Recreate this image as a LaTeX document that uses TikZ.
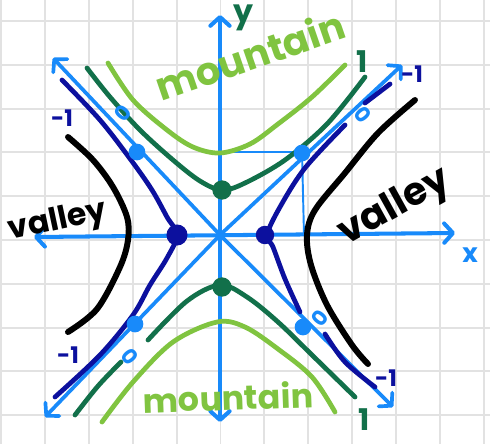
\documentclass[tikz,border=0pt]{standalone}
\usepackage{fontspec}
\setmainfont{Poppins}
\usetikzlibrary{arrows.meta}
\definecolor{lblue}{RGB}{24,138,250}
\definecolor{dblue}{RGB}{12,16,158}
\definecolor{dgreen}{RGB}{18,112,74}
\definecolor{lgreen}{RGB}{128,196,64}
\definecolor{gridgray}{RGB}{226,226,226}
\begin{document}
\begin{tikzpicture}[x=0.02cm,y=-0.02cm,
  gridline/.style={gridgray,line width=1.1pt},
  axisline/.style={lblue,line width=2.3pt,line cap=round},
  asymline/.style={lblue,line width=2.1pt,line cap=round},
  curve/.style={line width=2.7pt,line cap=round,line join=round},
  blackcurve/.style={black,line width=3.4pt,line cap=round,line join=round},
  thinline/.style={lblue,line width=1.1pt},
  bhead/.style={{Straight Barb[length=5pt,width=11pt,round]}-{Straight Barb[length=5pt,width=11pt,round]}},
  dot/.style={circle,inner sep=0pt,minimum size=#1},
  lab/.style={inner sep=0pt,anchor=center}]
\useasboundingbox (0,0) rectangle (490,444);
\fill[white] (0,0) rectangle (490,444);
% grid
\foreach \k in {0,...,11} \draw[gridline] ({1+43.9*\k},0) -- ({1+43.9*\k},444);
\foreach \k in {0,...,9} \draw[gridline] (0,{21+43.8*\k}) -- (490,{21+43.8*\k});
% key points
\coordinate (O) at (220,235);
\coordinate (xl) at (34,237);
\coordinate (xr) at (455,233);
\coordinate (yt) at (220,15);
\coordinate (yb) at (220,422);
\coordinate (nw) at (53,58);
\coordinate (se) at (393,407);
\coordinate (ne) at (402,65);
\coordinate (sw) at (45,417);
% thin construction lines
\coordinate (hy) at (220,152);
\coordinate (hx) at (304,235);
\draw[thinline] (hy) -- (302,152) -- (hx);
% asymptotes
\draw[asymline,bhead] (nw) -- (O) -- (se);
\draw[asymline,bhead] (sw) -- (O) -- (ne);
% axes
\draw[axisline,bhead] (xl) -- (xr);
\draw[axisline,bhead] (yb) -- (yt);
% light green (mountain) curves
\draw[curve,lgreen] plot[smooth,tension=0.55] coordinates {(108,63) (133,100) (167,130) (193,147) (220,153) (250,144) (278,124) (312,97) (345,65)};
\draw[curve,lgreen] plot[smooth,tension=0.55] coordinates {(102,422) (133,382) (173,342) (217,322) (245,327) (278,349) (312,377) (335,412)};
% dark green curves
\draw[curve,dgreen] plot[smooth,tension=0.55] coordinates {(87,68) (110,97) (140,130) (173,160) (200,181) (222,190) (245,183) (285,160) (327,124) (365,77)};
\draw[curve,dgreen] plot[smooth,tension=0.55] coordinates {(148,340) (187,301) (220,285) (247,297) (278,322) (312,355) (355,397)};
\draw[curve,dgreen] plot[smooth,tension=0.55] coordinates {(75,415) (98,386) (121,362)};
% dark blue curves
\draw[curve,dblue] plot[smooth,tension=0.55] coordinates {(62,80) (100,120) (131,160) (152,190) (167,217) (177,235) (167,258) (150,285) (133,315) (100,355) (55,397)};
\draw[curve,dblue] plot[smooth,tension=0.55] coordinates {(345,125) (305,168) (280,207) (267,235) (273,247) (285,279) (300,312)};
\draw[curve,dblue] (365,103) -- (390,84);
\draw[curve,dblue] plot[smooth,tension=0.55] coordinates {(325,334) (345,362) (375,387)};
% black valley curves
\draw[blackcurve] plot[smooth,tension=0.55] coordinates {(68,137) (93,160) (113,187) (127,217) (128,240) (120,267) (97,309) (68,332)};
\draw[blackcurve] plot[smooth,tension=0.55] coordinates {(415,100) (378,133) (345,173) (315,210) (307,235) (311,265) (327,305) (352,345) (368,364)};
% dots
\node[dot=9.5pt,fill=lblue] (p1) at (137,152) {};
\node[dot=9.5pt,fill=lblue] (p2) at (302,153) {};
\node[dot=9.5pt,fill=lblue] (p3) at (135,324) {};
\node[dot=9.5pt,fill=lblue] (p4) at (303,327) {};
\node[dot=12pt,fill=dblue] (q1) at (177,235) {};
\node[dot=10.5pt,fill=dblue] (q2) at (265,235) {};
\node[dot=11pt,fill=dgreen] (g1) at (222,190) {};
\node[dot=11pt,fill=dgreen] (g2) at (222,287) {};
% texts
\node[lab,lgreen,rotate=19,font=\fontsize{22}{22}\selectfont\bfseries] (mt) at (250,55) {mountain};
\node[lab,lgreen,rotate=2,font=\fontsize{19}{19}\selectfont\bfseries] (mb) at (228,397) {mountain};
\node[lab,black,rotate=12,font=\fontsize{18}{18}\selectfont\bfseries] (vl) at (58,222) {valley};
\node[lab,black,rotate=29,font=\fontsize{22}{22}\selectfont\bfseries] (vr) at (395,208) {valley};
\node[lab,lblue,font=\fontsize{15}{15}\selectfont\bfseries] (xlab) at (470,255) {x};
\node[lab,dgreen,font=\fontsize{18}{18}\selectfont\bfseries] (ylab) at (243,18) {y};
\node[lab,dblue,font=\fontsize{13}{13}\selectfont\bfseries] (m1a) at (62,118) {-1};
\node[lab,dblue,font=\fontsize{13}{13}\selectfont\bfseries] (m1b) at (412,74) {-1};
\node[lab,dblue,font=\fontsize{13}{13}\selectfont\bfseries] (m1c) at (68,355) {-1};
\node[lab,dblue,font=\fontsize{13}{13}\selectfont\bfseries] (m1d) at (386,378) {-1};
\node[lab,dgreen,font=\fontsize{17}{17}\selectfont\bfseries] (o1a) at (362,62) {1};
\node[lab,dgreen,font=\fontsize{17}{17}\selectfont\bfseries] (o1b) at (364,420) {1};
\node[lab,lblue,rotate=50,font=\fontsize{12}{12}\selectfont\bfseries] (z1) at (123,113) {0};
\node[lab,lblue,rotate=-50,font=\fontsize{12}{12}\selectfont\bfseries] (z2) at (363,115) {0};
\node[lab,lblue,rotate=-50,font=\fontsize{12}{12}\selectfont\bfseries] (z3) at (130,357) {0};
\node[lab,lblue,rotate=50,font=\fontsize{12}{12}\selectfont\bfseries] (z4) at (320,318) {0};
\end{tikzpicture}
\end{document}
